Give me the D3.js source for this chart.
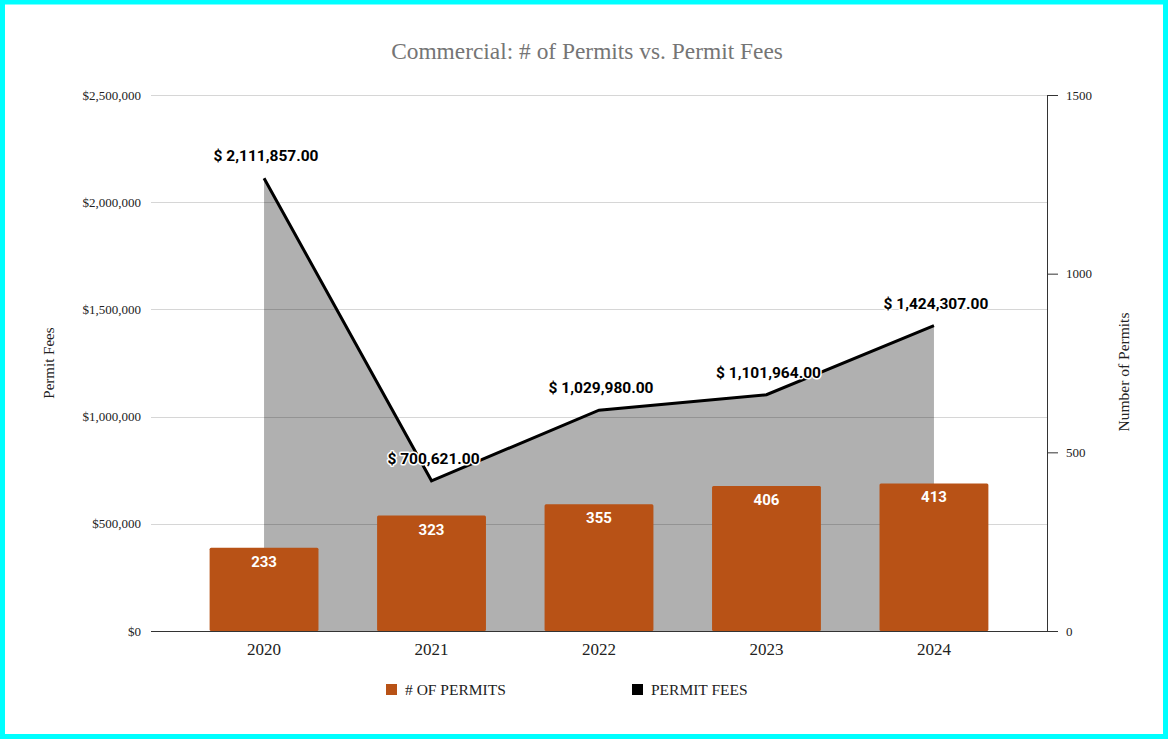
<!DOCTYPE html>
<html>
<head>
<meta charset="utf-8">
<script src="https://cdn.jsdelivr.net/npm/d3@7/dist/d3.min.js"></script>
<style>
  html, body { margin: 0; padding: 0; background: #fff; }
  svg { display: block; }
</style>
</head>
<body>
<svg id="chart" width="1168" height="740"></svg>
<script>
const years = ["2020", "2021", "2022", "2023", "2024"];
const permits = [233, 323, 355, 406, 413];
const fees = [2111857.00, 700621.00, 1029980.00, 1101964.00, 1424307.00];
const feeTicks = [0, 500000, 1000000, 1500000, 2000000, 2500000];
const permitTicks = [0, 500, 1000, 1500];

const W = 1168, H = 740;
const m = { left: 151, right: 1047, top: 95, bottom: 631 };
const svg = d3.select("#chart");

// cyan frame
svg.append("rect").attr("x", 2.5).attr("y", 2).attr("width", W - 5).attr("height", H - 5.5)
  .attr("fill", "#fff").attr("stroke", "#00ffff").attr("stroke-width", 5);

const x = d3.scaleBand().domain(years).range([m.left, m.right])
  .paddingInner(0.35).paddingOuter(0.175 + 0.35 / 2);
const yL = d3.scaleLinear().domain([0, 2500000]).range([m.bottom, m.top]);
const yR = d3.scaleLinear().domain([0, 1500]).range([m.bottom, m.top]);

const cx = d => x(d) + x.bandwidth() / 2;

// title
svg.append("text").attr("x", 587).attr("y", 59).attr("text-anchor", "middle")
  .attr("font-family", "Liberation Serif, serif").attr("font-size", 23.4).attr("fill", "#757575")
  .text("Commercial: # of Permits vs. Permit Fees");

// area under fees
const data = years.map((y, i) => ({ y, p: permits[i], f: fees[i] }));
svg.append("path").datum(data)
  .attr("d", d3.area().x(d => cx(d.y)).y0(yL(0)).y1(d => yL(d.f)))
  .attr("fill", "#b0b0b0");

// gridlines (left axis)
svg.append("g").attr("transform", `translate(${m.left},0)`)
  .call(d3.axisLeft(yL).tickValues(feeTicks).tickSize(-(m.right - m.left)).tickFormat(""))
  .call(g => g.select(".domain").remove())
  .call(g => g.selectAll(".tick line").attr("stroke", "#000").attr("stroke-opacity", 0.16).attr("shape-rendering", "crispEdges"));

// left axis labels
svg.append("g").attr("transform", `translate(${m.left},0)`)
  .call(d3.axisLeft(yL).tickValues(feeTicks).tickSize(0).tickPadding(10)
    .tickFormat(d => "$" + d3.format(",")(d)))
  .call(g => g.select(".domain").remove())
  .call(g => g.selectAll("text").attr("font-family", "Liberation Serif, serif").attr("font-size", 13).attr("fill", "#222"));

// bars
svg.append("g").selectAll("rect").data(data).join("rect")
  .attr("x", d => x(d.y)).attr("width", x.bandwidth())
  .attr("y", d => yR(d.p)).attr("height", d => yR(0) - yR(d.p))
  .attr("fill", "#b85216").attr("rx", 1.5);

// bar labels
svg.append("g").selectAll("text").data(data).join("text")
  .attr("x", d => cx(d.y)).attr("y", d => yR(d.p) + 19)
  .attr("text-anchor", "middle").attr("font-family", "Roboto, sans-serif").attr("font-weight", "bold")
  .attr("font-size", 15).attr("fill", "#fff").text(d => d.p);

// baseline
svg.append("line").attr("x1", m.left).attr("x2", m.right).attr("y1", m.bottom + 0.5).attr("y2", m.bottom + 0.5)
  .attr("stroke", "#333");

// fee line
svg.append("path").datum(data)
  .attr("d", d3.line().x(d => cx(d.y)).y(d => yL(d.f)))
  .attr("fill", "none").attr("stroke", "#000").attr("stroke-width", 3).attr("stroke-linejoin", "miter");

// fee labels
svg.append("g").selectAll("text").data(data).join("text")
  .attr("x", d => cx(d.y) + 2).attr("y", d => yL(d.f) - 17)
  .attr("text-anchor", "middle").attr("font-family", "Roboto, sans-serif").attr("font-weight", "bold")
  .attr("font-size", 15.5).attr("fill", "#000")
  .attr("stroke", "#fff").attr("stroke-width", 3).attr("paint-order", "stroke").attr("stroke-linejoin", "round")
  .text(d => "$ " + d3.format(",.2f")(d.f));

// right axis
svg.append("g").attr("transform", `translate(${m.right},0)`)
  .call(d3.axisRight(yR).tickValues(permitTicks).tickFormat(d3.format("d")).tickSize(11).tickPadding(8).tickSizeOuter(0))
  .call(g => g.select(".domain").attr("stroke", "#333"))
  .call(g => g.selectAll(".tick line").attr("stroke", "#333"))
  .call(g => g.selectAll("text").attr("font-family", "Liberation Serif, serif").attr("font-size", 13).attr("fill", "#222"));

// x axis labels
svg.append("g").attr("transform", `translate(0,${m.bottom})`)
  .call(d3.axisBottom(x).tickSize(0).tickPadding(12))
  .call(g => g.select(".domain").remove())
  .call(g => g.selectAll("text").attr("font-family", "Liberation Serif, serif").attr("font-size", 17).attr("fill", "#222"));

// axis titles
svg.append("text").attr("transform", "translate(54,363) rotate(-90)").attr("text-anchor", "middle")
  .attr("font-family", "Liberation Serif, serif").attr("font-size", 15).attr("fill", "#222").text("Permit Fees");
svg.append("text").attr("transform", "translate(1129,372) rotate(-90)").attr("text-anchor", "middle")
  .attr("font-family", "Liberation Serif, serif").attr("font-size", 15.5).attr("fill", "#222").text("Number of Permits");

// legend
const legend = [
  { label: "# OF PERMITS", color: "#b85216", x: 386 },
  { label: "PERMIT FEES", color: "#000", x: 632 }
];
const lg = svg.append("g").selectAll("g").data(legend).join("g")
  .attr("transform", d => `translate(${d.x},684)`);
lg.append("rect").attr("width", 11).attr("height", 11).attr("fill", d => d.color);
lg.append("text").attr("x", 19).attr("y", 11).attr("font-family", "Liberation Serif, serif")
  .attr("font-size", 15.5).attr("fill", "#222").text(d => d.label);
</script>
</body>
</html>
